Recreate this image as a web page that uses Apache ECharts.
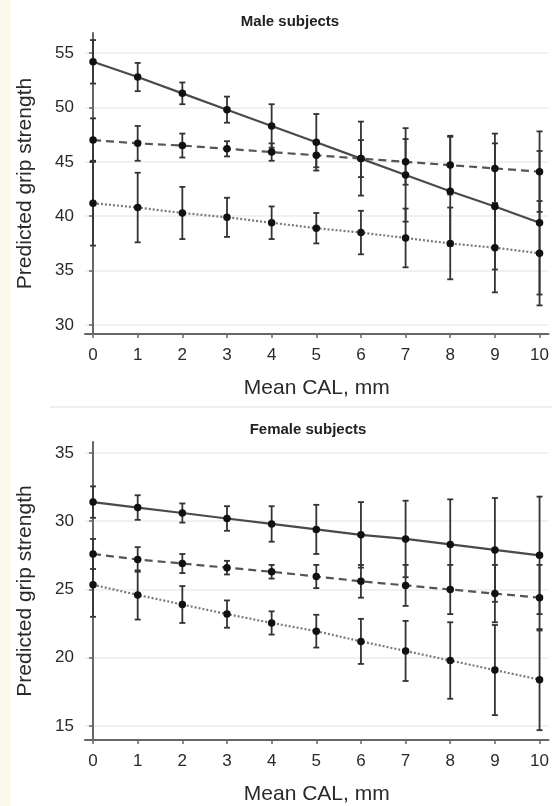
<!DOCTYPE html>
<html>
<head>
<meta charset="utf-8">
<script src="https://cdn.jsdelivr.net/npm/echarts@6/dist/echarts.min.js"></script>
<style>
  html, body { margin: 0; padding: 0; background: #fff; }
  #main { width: 552px; height: 806px; }
</style>
</head>
<body>
<div id="main"></div>
<script>
// mean CAL (mm) on the x axis
const cal = [0, 1, 2, 3, 4, 5, 6, 7, 8, 9, 10];
const xTicks = [0, 1, 2, 3, 4, 5, 6, 7, 8, 9, 10];

// male subjects: predicted value and half-width of the error bar
const maleSolid = [54.2, 52.8, 51.3, 49.8, 48.3, 46.8, 45.3, 43.8, 42.3, 40.9, 39.4];
const maleSolidErr = [2.0, 1.3, 1.0, 1.2, 2.0, 2.6, 3.4, 4.3, 5.0, 5.8, 6.6];
const maleDashed = [47.0, 46.7, 46.5, 46.2, 45.9, 45.6, 45.3, 45.0, 44.7, 44.4, 44.1];
const maleDashedErr = [2.0, 1.6, 1.1, 0.7, 0.8, 1.1, 1.7, 2.1, 2.7, 3.2, 3.7];
const maleDotted = [41.2, 40.8, 40.3, 39.9, 39.4, 38.9, 38.5, 38.0, 37.5, 37.1, 36.6];
const maleDottedErr = [3.9, 3.2, 2.4, 1.8, 1.5, 1.4, 2.0, 2.7, 3.3, 4.1, 4.8];
const maleTicks = [30, 35, 40, 45, 50, 55];

// female subjects
const femSolid = [31.4, 31.0, 30.6, 30.2, 29.8, 29.4, 29.0, 28.7, 28.3, 27.9, 27.5];
const femSolidErr = [1.15, 0.9, 0.7, 0.9, 1.3, 1.8, 2.4, 2.8, 3.3, 3.8, 4.3];
const femDashed = [27.6, 27.2, 26.9, 26.6, 26.3, 25.95, 25.6, 25.3, 25.0, 24.7, 24.4];
const femDashedErr = [1.1, 0.9, 0.7, 0.5, 0.5, 0.85, 1.2, 1.5, 1.8, 2.1, 2.4];
const femDotted = [25.35, 24.6, 23.9, 23.2, 22.55, 21.95, 21.2, 20.5, 19.8, 19.1, 18.4];
const femDottedErr = [2.35, 1.8, 1.35, 1.0, 0.85, 1.2, 1.65, 2.2, 2.8, 3.3, 3.7];
const femTicks = [15, 20, 25, 30, 35];

const FONT = '"Liberation Sans", Arial, sans-serif';
const AXIS_COLOR = '#666';
const TEXT_COLOR = '#2a2a2a';

const chart = echarts.init(document.getElementById('main'));

function errorBars(idx, values, errs) {
  return {
    type: 'custom',
    xAxisIndex: idx,
    yAxisIndex: idx,
    z: 2,
    data: cal.map((c, i) => [c, values[i] - errs[i], values[i] + errs[i]]),
    renderItem: function (params, api) {
      const lo = api.coord([api.value(0), api.value(1)]);
      const hi = api.coord([api.value(0), api.value(2)]);
      const w = 3;
      const style = { stroke: '#333', lineWidth: 1.8 };
      return {
        type: 'group',
        children: [
          { type: 'line', shape: { x1: lo[0], y1: lo[1], x2: hi[0], y2: hi[1] }, style: style },
          { type: 'line', shape: { x1: lo[0] - w, y1: lo[1], x2: lo[0] + w, y2: lo[1] }, style: style },
          { type: 'line', shape: { x1: hi[0] - w, y1: hi[1], x2: hi[0] + w, y2: hi[1] }, style: style }
        ]
      };
    }
  };
}

function lineSeries(idx, values, dash, color) {
  return {
    type: 'line',
    xAxisIndex: idx,
    yAxisIndex: idx,
    z: 3,
    data: cal.map((c, i) => [c, values[i]]),
    symbol: 'circle',
    symbolSize: 7.5,
    itemStyle: { color: '#111' },
    lineStyle: { color: color, width: 2.2, type: dash },
    animation: false
  };
}

function xAxis(idx) {
  return {
    type: 'value',
    gridIndex: idx,
    min: -0.18,
    max: 10.2,
    name: 'Mean CAL, mm',
    nameLocation: 'middle',
    nameGap: 44,
    nameTextStyle: { fontFamily: FONT, fontSize: 21, color: TEXT_COLOR },
    axisLine: { lineStyle: { color: AXIS_COLOR, width: 2 } },
    axisTick: { customValues: xTicks, length: 4, lineStyle: { color: AXIS_COLOR, width: 1.5 } },
    axisLabel: { customValues: xTicks, margin: 13, fontFamily: FONT, fontSize: 17, color: TEXT_COLOR },
    splitLine: { show: false }
  };
}

function yAxis(idx, min, max, ticks) {
  return {
    type: 'value',
    gridIndex: idx,
    min: min,
    max: max,
    name: 'Predicted grip strength',
    nameLocation: 'middle',
    nameGap: 49,
    nameTextStyle: { fontFamily: FONT, fontSize: 21, color: TEXT_COLOR },
    axisLine: { show: true, lineStyle: { color: AXIS_COLOR, width: 2 } },
    axisTick: { show: true, customValues: ticks, length: 4, lineStyle: { color: AXIS_COLOR, width: 1.5 } },
    axisLabel: { customValues: ticks, margin: 11, fontFamily: FONT, fontSize: 17, color: TEXT_COLOR },
    splitLine: { show: true, lineStyle: { color: '#ececec', width: 1.5 } }
  };
}

const option = {
  backgroundColor: '#fff',
  animation: false,
  title: [
    {
      text: 'Male subjects', left: 285, top: 9, textAlign: 'center',
      textStyle: { fontFamily: FONT, fontSize: 15, fontWeight: 'bold', color: '#222' }
    },
    {
      text: 'Female subjects', left: 303, top: 417, textAlign: 'center',
      textStyle: { fontFamily: FONT, fontSize: 15, fontWeight: 'bold', color: '#222' }
    }
  ],
  graphic: [
    { type: 'rect', shape: { x: 0, y: 0, width: 11, height: 806 }, style: { fill: '#fbf9ee' }, z: -1 },
    { type: 'line', shape: { x1: 50, y1: 407, x2: 552, y2: 407 }, style: { stroke: '#eeeeee', lineWidth: 2 } }
  ],
  grid: [
    { left: 85, right: 0, top: 33, height: 301 },
    { left: 85, right: 0, top: 442, height: 300 }
  ],
  xAxis: [xAxis(0), xAxis(1)],
  yAxis: [yAxis(0, 29.17, 56.85, maleTicks), yAxis(1, 13.98, 35.8, femTicks)],
  series: [
    errorBars(0, maleSolid, maleSolidErr),
    errorBars(0, maleDashed, maleDashedErr),
    errorBars(0, maleDotted, maleDottedErr),
    lineSeries(0, maleSolid, 'solid', '#4a4a4a'),
    lineSeries(0, maleDashed, [8, 5], '#555'),
    lineSeries(0, maleDotted, [2, 2], '#7a7a7a'),
    errorBars(1, femSolid, femSolidErr),
    errorBars(1, femDashed, femDashedErr),
    errorBars(1, femDotted, femDottedErr),
    lineSeries(1, femSolid, 'solid', '#4a4a4a'),
    lineSeries(1, femDashed, [8, 5], '#555'),
    lineSeries(1, femDotted, [2, 2], '#7a7a7a')
  ]
};

chart.setOption(option);
</script>
</body>
</html>
